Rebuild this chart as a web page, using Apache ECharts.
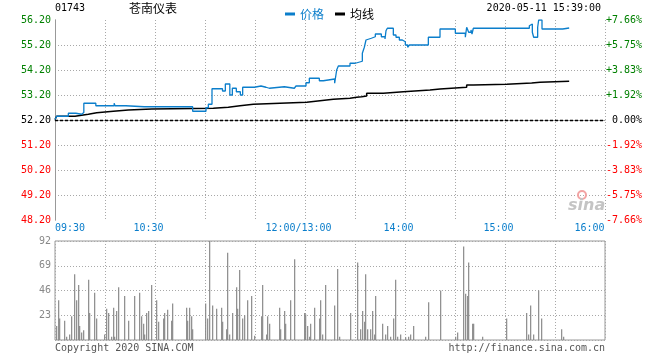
<!DOCTYPE html>
<html><head><meta charset="utf-8">
<script src="https://cdn.jsdelivr.net/npm/echarts@6/dist/echarts.min.js"></script>
<style>html,body{margin:0;padding:0;background:#fff}#c{width:660px;height:360px}</style>
</head><body><div id="c"></div>
<script>
// ---- data ----
const stockCode = '01743';
const stockName = '苍南仪表';
const timeStamp = '2020-05-11 15:39:00';
const prevClose = 52.20;

// x axis: minutes of trading from 09:30 (lunch break removed), 330 total
const xTickMinutes = [0, 60, 150, 210, 270, 330];
const xTickLabels = ['09:30', '10:30', '12:00/13:00', '14:00', '15:00', '16:00'];

// price line (minute, price) — change points
const priceMinutes = [0, 1, 8, 12.5, 16, 17.3, 24.5, 35.5, 36, 42.5, 53.5, 54, 82.6, 90.6, 92, 94.2, 100.5, 102.2, 104.9, 106.4, 108.8, 111.2, 112.6, 119.6, 123.6, 126.6, 128.6, 137.6, 143.6, 144.6, 150.6, 152.6, 158.6, 161, 167.8, 169, 170, 177, 180.2, 184.4, 185.6, 186.6, 187.4, 189.8, 191, 192.2, 195.8, 198, 198.6, 199.4, 203, 204.6, 206.6, 208.4, 210.2, 211.6, 212.6, 224, 231, 240.2, 246.2, 247, 248.2, 249.6, 250.2, 251, 284.6, 285.6, 286.4, 287.2, 289.6, 290.2, 292.2, 304.6, 308.5];
const priceValues = [52.22, 52.35, 52.47, 52.43, 52.50, 52.87, 52.77, 52.87, 52.77, 52.73, 52.80, 52.73, 52.55, 52.69, 52.83, 53.45, 53.36, 53.64, 53.20, 53.47, 53.33, 53.20, 53.51, 53.56, 53.51, 53.47, 53.53, 53.47, 53.44, 53.56, 53.69, 53.87, 53.77, 53.84, 53.67, 54.20, 54.36, 54.47, 54.55, 54.87, 55.11, 55.40, 55.47, 55.40, 55.53, 55.64, 55.53, 55.44, 55.77, 55.87, 55.60, 55.51, 55.40, 55.33, 55.20, 55.11, 55.20, 55.51, 55.84, 55.67, 55.51, 55.91, 55.71, 55.80, 55.64, 55.87, 55.97, 56.04, 55.71, 55.51, 55.91, 56.20, 55.84, 55.88, 55.88];

// average price line (minute, price) — change points
const avgMinutes = [0, 1, 12, 20, 25, 35, 44, 58, 95, 104, 111, 119, 135, 151, 159, 167, 177, 181, 184, 187, 197, 209, 225, 231, 247, 251, 271, 286, 291, 308.5];
const avgValues = [52.22, 52.35, 52.43, 52.49, 52.55, 52.60, 52.64, 52.67, 52.71, 52.77, 52.83, 52.87, 52.91, 52.97, 53.03, 53.07, 53.11, 53.13, 53.16, 53.27, 53.33, 53.40, 53.44, 53.51, 53.60, 53.63, 53.68, 53.71, 53.75, 53.75];

// volume bars (minute, volume)
const volMinutes = [1, 2.2, 2.8, 5.8, 7, 8.8, 10, 11.8, 13, 14.2, 14.8, 16, 17.2, 20.2, 20.8, 23.8, 25, 29.8, 31, 32.2, 34, 35.2, 35.8, 37, 38.2, 41.8, 44.2, 47.8, 50.8, 52, 53.2, 53.8, 55, 56.2, 58, 61, 62.2, 65.2, 65.8, 67.6, 70, 70.6, 79, 79.6, 80.8, 82, 82.6, 90.4, 91.6, 92.8, 94.6, 97, 100, 100.6, 103, 103.6, 104.8, 106.6, 109, 109.6, 110.8, 112.6, 113.8, 115.6, 118, 119.8, 124, 124.6, 127, 127.6, 128.8, 134.8, 135.4, 137.8, 138.4, 141.4, 143.8, 149.8, 150.4, 151.6, 152.8, 153.4, 155.8, 158.8, 159.4, 160.6, 162.4, 167.8, 169.6, 170.8, 177.4, 181.6, 183.4, 184.6, 185.8, 186.4, 187.6, 189.4, 190.6, 191.8, 192.4, 196.6, 198.4, 199.6, 201.4, 203.2, 204.4, 205.6, 207.4, 210.4, 212.2, 213.4, 215.2, 222.4, 224.2, 231.4, 240.4, 241.6, 245.2, 246.4, 247.6, 248.2, 250.6, 251.2, 256.6, 271, 283, 284.2, 285.4, 287.2, 290.2, 292, 304, 305.2];
const volValues = [13, 37, 20, 18, 3, 5, 22, 61, 37, 51, 13, 7, 9, 56, 25, 44, 20, 5, 29, 25, 3, 30, 3, 27, 49, 41, 18, 41, 44, 22, 15, 5, 25, 27, 51, 37, 17, 20, 25, 28, 18, 34, 30, 18, 30, 22, 10, 34, 20, 100, 32, 29, 30, 17, 10, 81, 5, 25, 49, 29, 65, 20, 23, 37, 41, 4, 22, 51, 5, 22, 15, 30, 10, 27, 15, 37, 75, 25, 24, 13, 3, 15, 30, 20, 37, 5, 51, 32, 66, 3, 25, 72, 10, 27, 17, 61, 10, 10, 27, 5, 41, 15, 5, 13, 3, 20, 56, 3, 5, 2.5, 3, 5, 13, 3, 35, 46, 3, 7, 87, 43, 41, 72, 15, 15, 3, 20, 25, 5, 32, 5, 46, 20, 10, 3];

// ---- chart ----
const BLUE = '#0b7ecb';
const MONO = '"DejaVu Sans Mono", monospace';
const CJK = '"Noto Sans CJK SC", sans-serif';
const GRIDC = '#a8a8a8';
const BORDER = '#999';

const priceData = priceMinutes.map((m, i) => [m, +(priceValues[i] - prevClose).toFixed(4)]);
const avgData = avgMinutes.map((m, i) => [m, +(avgValues[i] - prevClose).toFixed(4)]);
const volData = volMinutes.map((m, i) => [m, volValues[i]]);

function xLabel(v) {
  const k = xTickMinutes.indexOf(v);
  if (k < 0) return '';
  const s = k === 0 ? 'a' : (k === xTickMinutes.length - 1 ? 'c' : 'b');
  return '{' + s + '|' + xTickLabels[k] + '}';
}
function sideColor(v) {
  if (Math.abs(v) < 1e-6) return '#000';
  return v > 0 ? '#008000' : '#ff0000';
}

const chart = echarts.init(document.getElementById('c'), null, {renderer: 'canvas'});
chart.setOption({
  animation: false,
  backgroundColor: '#fff',
  legend: {
    left: 280, top: 3, icon: 'rect', itemWidth: 10, itemHeight: 3, itemGap: 11,
    textStyle: {fontSize: 12, fontFamily: CJK},
    data: [{name: '价格', textStyle: {color: BLUE}}, {name: '均线', textStyle: {color: '#000'}}]
  },
  grid: [
    {left: 55, top: 20, width: 550, height: 200},
    {left: 55, top: 241, width: 550, height: 99, show: true, borderColor: BORDER, borderWidth: 1}
  ],
  xAxis: [
    {gridIndex: 0, type: 'value', min: 0, max: 330, interval: 30, position: 'bottom',
     axisLine: {show: false}, axisTick: {show: false},
     axisLabel: {margin: 3, formatter: xLabel, color: BLUE, fontFamily: MONO, fontSize: 10,
       rich: {
         a: {color: BLUE, fontFamily: MONO, fontSize: 10, padding: [0, 0, 0, 30]},
         b: {color: BLUE, fontFamily: MONO, fontSize: 10, padding: [0, 13, 0, 0]},
         c: {color: BLUE, fontFamily: MONO, fontSize: 10, padding: [0, 31, 0, 0]}
       }},
     splitLine: {show: true, lineStyle: {color: GRIDC, type: [1, 2], width: 1}}},
    {gridIndex: 0, type: 'value', min: 0, max: 330, position: 'top',
     axisLine: {show: true, lineStyle: {color: BORDER, width: 1}}, axisTick: {show: false},
     axisLabel: {show: false}, splitLine: {show: false}},
    {gridIndex: 1, type: 'value', min: 0, max: 330, interval: 30,
     axisLine: {show: false}, axisTick: {show: false}, axisLabel: {show: false},
     splitLine: {show: true, lineStyle: {color: GRIDC, type: [1, 2], width: 1}}}
  ],
  yAxis: [
    {gridIndex: 0, type: 'value', min: -4, max: 4, interval: 1, position: 'left',
     axisLine: {show: true, lineStyle: {color: BORDER, width: 1}}, axisTick: {show: false},
     axisLabel: {margin: 4, fontFamily: MONO, fontSize: 10, padding: [0, 0, 5, 0],
       formatter: v => (v + prevClose).toFixed(2), color: v => sideColor(v)},
     splitLine: {show: true, lineStyle: {color: ['transparent', GRIDC, GRIDC, GRIDC, 'transparent', GRIDC, GRIDC, GRIDC, 'transparent'], type: [1, 2], width: 1}}},
    {gridIndex: 0, type: 'value', min: -4, max: 4, interval: 1, position: 'right',
     axisLine: {show: true, lineStyle: {color: BORDER, width: 1}}, axisTick: {show: false},
     axisLabel: {margin: 37, align: 'right', fontFamily: MONO, fontSize: 10, padding: [0, 0, 5, 0],
       formatter: v => { const p = v / prevClose * 100; return (p > 0.0001 ? '+' : '') + p.toFixed(2) + '%'; },
       color: v => sideColor(v)},
     splitLine: {show: false}},
    {gridIndex: 1, type: 'value', min: 0, max: 92, interval: 23,
     axisLine: {show: false}, axisTick: {show: false},
     axisLabel: {margin: 4, fontFamily: MONO, fontSize: 10, color: '#888', padding: [0, 0, 5, 0],
       formatter: v => v === 0 ? '' : String(v)},
     splitLine: {show: true, lineStyle: {color: GRIDC, type: [1, 2], width: 1}}}
  ],
  series: [
    {name: '均线', type: 'line', xAxisIndex: 0, yAxisIndex: 0, data: avgData, step: 'end',
     showSymbol: false, color: '#000', lineStyle: {color: '#000', width: 1.5}, z: 3,
     markLine: {silent: true, symbol: 'none', label: {show: false},
       lineStyle: {color: '#000', type: [3, 2], width: 1.4}, data: [{yAxis: 0}]}},
    {name: '价格', type: 'line', xAxisIndex: 0, yAxisIndex: 0, data: priceData, step: 'end',
     showSymbol: false, color: BLUE, lineStyle: {color: BLUE, width: 1.3}, z: 4},
    {name: '成交量', type: 'bar', xAxisIndex: 2, yAxisIndex: 2, data: volData, barWidth: 1.2,
     itemStyle: {color: '#8a8a8a'}, clip: true}
  ],
  graphic: [
    {type: 'text', left: 55, top: 3, style: {text: stockCode, font: '10px ' + MONO, fill: '#000'}},
    {type: 'text', left: 129, top: 2, style: {text: stockName, font: '12px ' + CJK, fill: '#000'}},
    {type: 'text', right: 59, top: 3, style: {text: timeStamp, font: '10px ' + MONO, fill: '#000'}},
    {type: 'text', left: 55, top: 343, style: {text: 'Copyright 2020 SINA.COM', font: '10px ' + MONO, fill: '#555'}},
    {type: 'text', right: 55, top: 343, style: {text: 'http://finance.sina.com.cn', font: '10px ' + MONO, fill: '#555'}},
    {type: 'circle', shape: {cx: 582, cy: 195, r: 4}, style: {fill: 'none', stroke: '#f2a3a3', lineWidth: 2}, z: 1},
    {type: 'text', left: 568, top: 198, style: {text: 'sina', font: 'italic bold 16px "DejaVu Sans", sans-serif', fill: '#c4c4c4'}, z: 1}
  ]
});
</script></body></html>
